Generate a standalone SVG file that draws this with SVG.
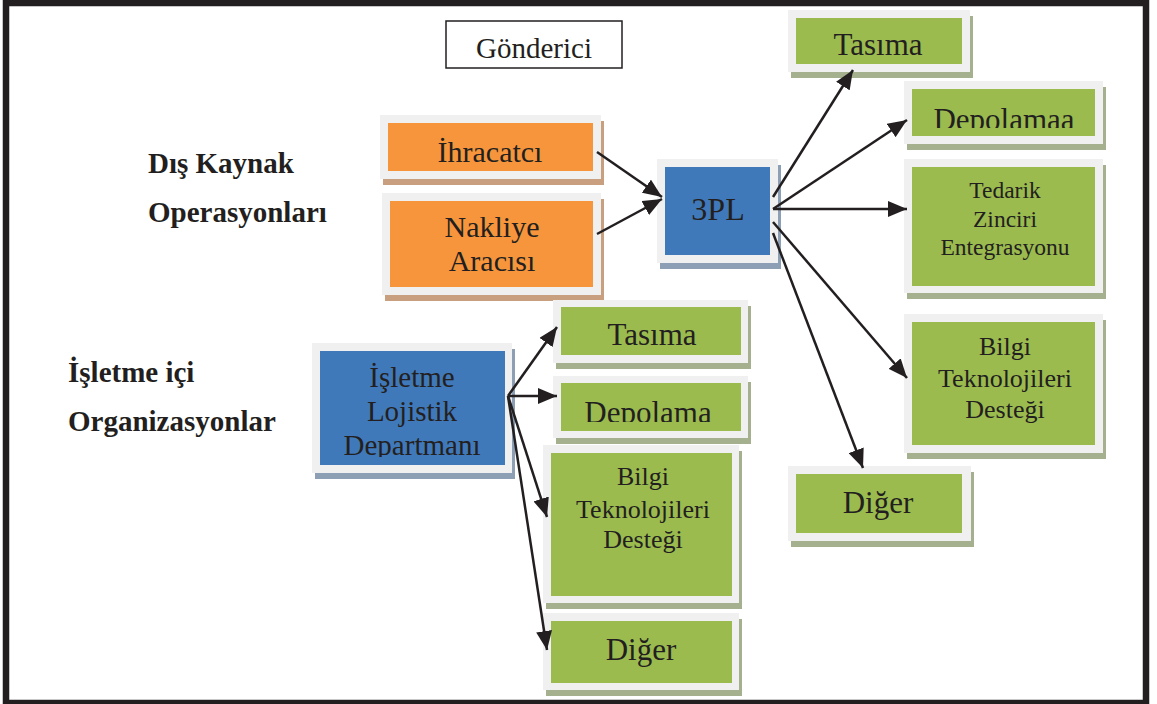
<svg xmlns="http://www.w3.org/2000/svg" width="1157" height="704" viewBox="0 0 1157 704">
<style>
.bd{fill:#f0f0f0}
.or{fill:#f6953b}.orsh{fill:#c9a07f}
.gr{fill:#9bbb4f}.grsh{fill:#a5b08e}
.bl{fill:#4079b9}.blsh{fill:#8d9fb5}
.t{font-family:"Liberation Serif","Times New Roman",serif;fill:#231f20;text-anchor:middle}
.lb{font-family:"Liberation Serif","Times New Roman",serif;fill:#231f20;font-weight:bold;font-size:29px}
.c{stroke:#231f20;stroke-width:2.5;fill:none;marker-end:url(#ah)}
</style>
<defs>
<marker id="ah" markerUnits="userSpaceOnUse" markerWidth="20" markerHeight="16" refX="19" refY="8" orient="auto"><path d="M0,0 L19,8 L0,16 z" fill="#231f20"/></marker>
<clipPath id="clipDR"><rect x="900" y="80" width="210" height="48"/></clipPath>
<clipPath id="clipDL"><rect x="550" y="370" width="210" height="52"/></clipPath>
<clipPath id="clipIS"><rect x="310" y="340" width="210" height="117"/></clipPath>
</defs>
<rect x="6" y="3" width="1140" height="700" fill="#ffffff" stroke="#231f20" stroke-width="6.5"/>
<g id="gonderici"><rect x="446" y="21" width="176" height="47" fill="#fff" stroke="#231f20" stroke-width="1.5"/><text class="t" x="534" y="58" font-size="29">Gönderici</text></g>
<g id="lbl-dis"><text class="lb" x="148" y="173">Dış Kaynak</text><text class="lb" x="148" y="222">Operasyonları</text></g>
<g id="lbl-ic"><text class="lb" x="68" y="382">İşletme içi</text><text class="lb" x="68" y="431">Organizasyonlar</text></g>
<g id="ihracatci"><rect class="orsh" x="383" y="121" width="221" height="64"/><rect class="bd" x="380" y="115" width="221" height="64"/><rect class="or" x="388" y="123" width="205" height="48"/><text class="t" x="490" y="162" font-size="30">İhracatcı</text></g>
<g id="nakliye"><rect class="orsh" x="385" y="199" width="219" height="102"/><rect class="bd" x="382" y="193" width="219" height="102"/><rect class="or" x="390" y="201" width="203" height="86"/><text class="t" x="492" y="237" font-size="30">Nakliye</text><text class="t" x="492" y="271" font-size="30">Aracısı</text></g>
<g id="3pl"><rect class="blsh" x="660" y="165" width="121" height="104"/><rect class="bd" x="657" y="159" width="121" height="104"/><rect class="bl" x="665" y="167" width="105" height="88"/><text class="t" x="718" y="220" font-size="32">3PL</text></g>
<g id="tasima-r"><rect class="grsh" x="791" y="16" width="182" height="62"/><rect class="bd" x="788" y="10" width="182" height="62"/><rect class="gr" x="796" y="18" width="166" height="46"/><text class="t" x="878" y="55" font-size="31">Tasıma</text></g>
<g id="depolamaa"><rect class="grsh" x="907" y="87" width="199" height="63"/><rect class="bd" x="904" y="81" width="199" height="63"/><rect class="gr" x="912" y="89" width="183" height="47"/><text class="t" x="1004" y="130" font-size="31" clip-path="url(#clipDR)">Depolamaa</text></g>
<g id="tedarik"><rect class="grsh" x="907" y="165" width="199" height="134"/><rect class="bd" x="904" y="159" width="199" height="134"/><rect class="gr" x="912" y="167" width="183" height="119"/><text class="t" x="1005" y="198" font-size="23.5">Tedarik</text><text class="t" x="1005" y="227" font-size="23.5">Zinciri</text><text class="t" x="1005" y="255" font-size="23.5">Entegrasyonu</text></g>
<g id="bilgi-r"><rect class="grsh" x="907" y="320" width="199" height="139"/><rect class="bd" x="904" y="314" width="199" height="139"/><rect class="gr" x="912" y="322" width="183" height="123"/><text class="t" x="1005" y="355" font-size="26">Bilgi</text><text class="t" x="1005" y="387" font-size="26">Teknolojileri</text><text class="t" x="1005" y="418" font-size="26">Desteği</text></g>
<g id="diger-r"><rect class="grsh" x="791" y="472" width="183" height="75"/><rect class="bd" x="788" y="466" width="183" height="75"/><rect class="gr" x="796" y="474" width="166" height="59"/><text class="t" x="878" y="513" font-size="31">Diğer</text></g>
<g id="isletme"><rect class="blsh" x="315" y="349" width="200" height="130"/><rect class="bd" x="312" y="343" width="200" height="130"/><rect class="bl" x="320" y="351" width="185" height="114"/><g clip-path="url(#clipIS)"><text class="t" x="412" y="387" font-size="29">İşletme</text><text class="t" x="412" y="421" font-size="29">Lojistik</text><text class="t" x="412" y="455" font-size="29">Departmanı</text></g></g>
<g id="tasima-l"><rect class="grsh" x="556" y="306" width="195" height="63"/><rect class="bd" x="553" y="300" width="195" height="63"/><rect class="gr" x="561" y="307" width="180" height="48"/><text class="t" x="652" y="345" font-size="31">Tasıma</text></g>
<g id="depolama-l"><rect class="grsh" x="556" y="382" width="195" height="62"/><rect class="bd" x="553" y="376" width="195" height="62"/><rect class="gr" x="561" y="383" width="180" height="48"/><text class="t" x="648" y="423" font-size="31" clip-path="url(#clipDL)">Depolama</text></g>
<g id="bilgi-l"><rect class="grsh" x="546" y="451" width="196" height="158"/><rect class="bd" x="543" y="445" width="196" height="158"/><rect class="gr" x="551" y="453" width="181" height="143"/><text class="t" x="643" y="485" font-size="26">Bilgi</text><text class="t" x="643" y="518" font-size="26">Teknolojileri</text><text class="t" x="643" y="548" font-size="26">Desteği</text></g>
<g id="diger-l"><rect class="grsh" x="546" y="619" width="196" height="77"/><rect class="bd" x="543" y="613" width="196" height="77"/><rect class="gr" x="551" y="621" width="181" height="62"/><text class="t" x="641" y="660" font-size="31">Diğer</text></g>
<g id="connectors">
<line class="c" x1="597" y1="152" x2="662" y2="197"/>
<line class="c" x1="597" y1="234" x2="662" y2="199"/>
<line class="c" x1="773" y1="197" x2="853" y2="70"/>
<line class="c" x1="773" y1="209" x2="907" y2="120"/>
<line class="c" x1="773" y1="209" x2="907" y2="209"/>
<line class="c" x1="773" y1="222" x2="907" y2="378"/>
<line class="c" x1="773" y1="233" x2="863" y2="468"/>
<line class="c" x1="508" y1="396" x2="557" y2="327"/>
<line class="c" x1="508" y1="396" x2="557" y2="396"/>
<line class="c" x1="508" y1="396" x2="547" y2="517"/>
<line class="c" x1="508" y1="396" x2="547" y2="650"/>
</g>
</svg>
